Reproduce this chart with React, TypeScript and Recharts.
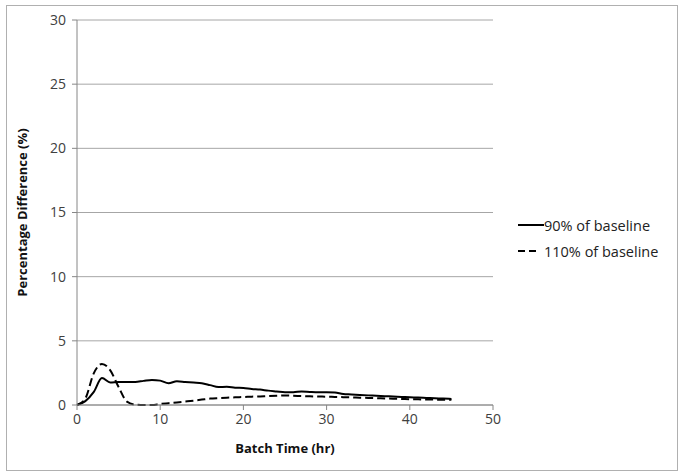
import React from "react";
import { LineChart, Line, XAxis, YAxis, CartesianGrid } from "recharts";

// Batch time (hr), sampled hourly
const hours = [0, 1, 2, 3, 4, 5, 6, 7, 8, 9, 10, 11, 12, 13, 14, 15, 16, 17, 18, 19, 20, 21, 22, 23, 24, 25, 26, 27, 28, 29, 30, 31, 32, 33, 34, 35, 36, 37, 38, 39, 40, 41, 42, 43, 44, 45];

// 90% of baseline (solid)
const low = [0, 0.3, 1.0, 2.1, 1.75, 1.8, 1.8, 1.8, 1.88, 1.95, 1.9, 1.7, 1.85, 1.8, 1.75, 1.7, 1.55, 1.4, 1.42, 1.35, 1.32, 1.25, 1.2, 1.12, 1.06, 1.0, 1.0, 1.05, 1.02, 1.0, 1.0, 0.98, 0.85, 0.82, 0.78, 0.75, 0.72, 0.69, 0.66, 0.63, 0.6, 0.58, 0.55, 0.52, 0.5, 0.47];

// 110% of baseline (dashed)
const high = [0, 0.5, 2.45, 3.2, 2.7, 1.4, 0.26, 0.03, 0, 0, 0.08, 0.14, 0.2, 0.27, 0.34, 0.42, 0.5, 0.54, 0.57, 0.6, 0.62, 0.65, 0.67, 0.7, 0.72, 0.74, 0.72, 0.7, 0.68, 0.66, 0.65, 0.63, 0.61, 0.59, 0.57, 0.55, 0.53, 0.51, 0.49, 0.47, 0.45, 0.44, 0.43, 0.42, 0.41, 0.4];

const xTicks = [0, 10, 20, 30, 40, 50];
const yTicks = [0, 5, 10, 15, 20, 25, 30];

const FONT = "'Open Sans', 'Noto Sans', sans-serif";

const data = hours.map((h, i) => ({ t: h, low: low[i], high: high[i] }));

const LegendBox = () => (
  <div style={{ position: "absolute", left: 518, top: 212, fontFamily: FONT, fontSize: 14.5, color: "#222" }}>
    <div style={{ display: "flex", alignItems: "center", height: 26 }}>
      <svg width={26} height={10}>
        <line x1={0} y1={5} x2={26} y2={5} stroke="#000" strokeWidth={2} />
      </svg>
      <span>90% of baseline</span>
    </div>
    <div style={{ display: "flex", alignItems: "center", height: 26 }}>
      <svg width={26} height={10}>
        <line x1={0} y1={5} x2={18} y2={5} stroke="#000" strokeWidth={2} strokeDasharray="7 4" />
      </svg>
      <span>110% of baseline</span>
    </div>
  </div>
);

export default function App() {
  return (
    <div style={{ position: "absolute", left: 0, top: 0, width: 678, height: 471, background: "#fff" }}>
      <div
        style={{
          position: "absolute",
          left: 6,
          top: 5,
          width: 670,
          height: 464,
          border: "1px solid #b0b0b0",
        }}
      />
      <LineChart
        width={678}
        height={471}
        data={data}
        margin={{ top: 20, right: 185, left: 0, bottom: 0 }}
        style={{ position: "absolute", left: 0, top: 0 }}
      >
        <CartesianGrid vertical={false} stroke="#a6a6a6" strokeWidth={1} />
        <XAxis
          dataKey="t"
          type="number"
          domain={[0, 50]}
          ticks={xTicks}
          height={66}
          stroke="#868686"
          tickSize={5}
          tick={{ fill: "#404040", fontSize: 14, fontFamily: FONT }}
          tickMargin={4}
          label={{
            value: "Batch Time (hr)",
            position: "insideBottom",
            offset: 18,
            style: { fontFamily: FONT, fontSize: 13, fontWeight: 700, fill: "#111" },
          }}
        />
        <YAxis
          type="number"
          domain={[0, 30]}
          ticks={yTicks}
          width={77}
          stroke="#868686"
          tickSize={5}
          tick={{ fill: "#404040", fontSize: 14, fontFamily: FONT }}
          tickMargin={6}
          label={{
            value: "Percentage Difference (%)",
            angle: -90,
            position: "insideLeft",
            offset: 22,
            style: { fontFamily: FONT, fontSize: 13, fontWeight: 700, fill: "#111", textAnchor: "middle" },
          }}
        />
        <Line
          type="monotone"
          dataKey="low"
          stroke="#000"
          strokeWidth={2}
          dot={false}
          isAnimationActive={false}
        />
        <Line
          type="monotone"
          dataKey="high"
          stroke="#000"
          strokeWidth={2}
          strokeDasharray="8 4"
          dot={false}
          isAnimationActive={false}
        />
      </LineChart>
      <LegendBox />
    </div>
  );
}
